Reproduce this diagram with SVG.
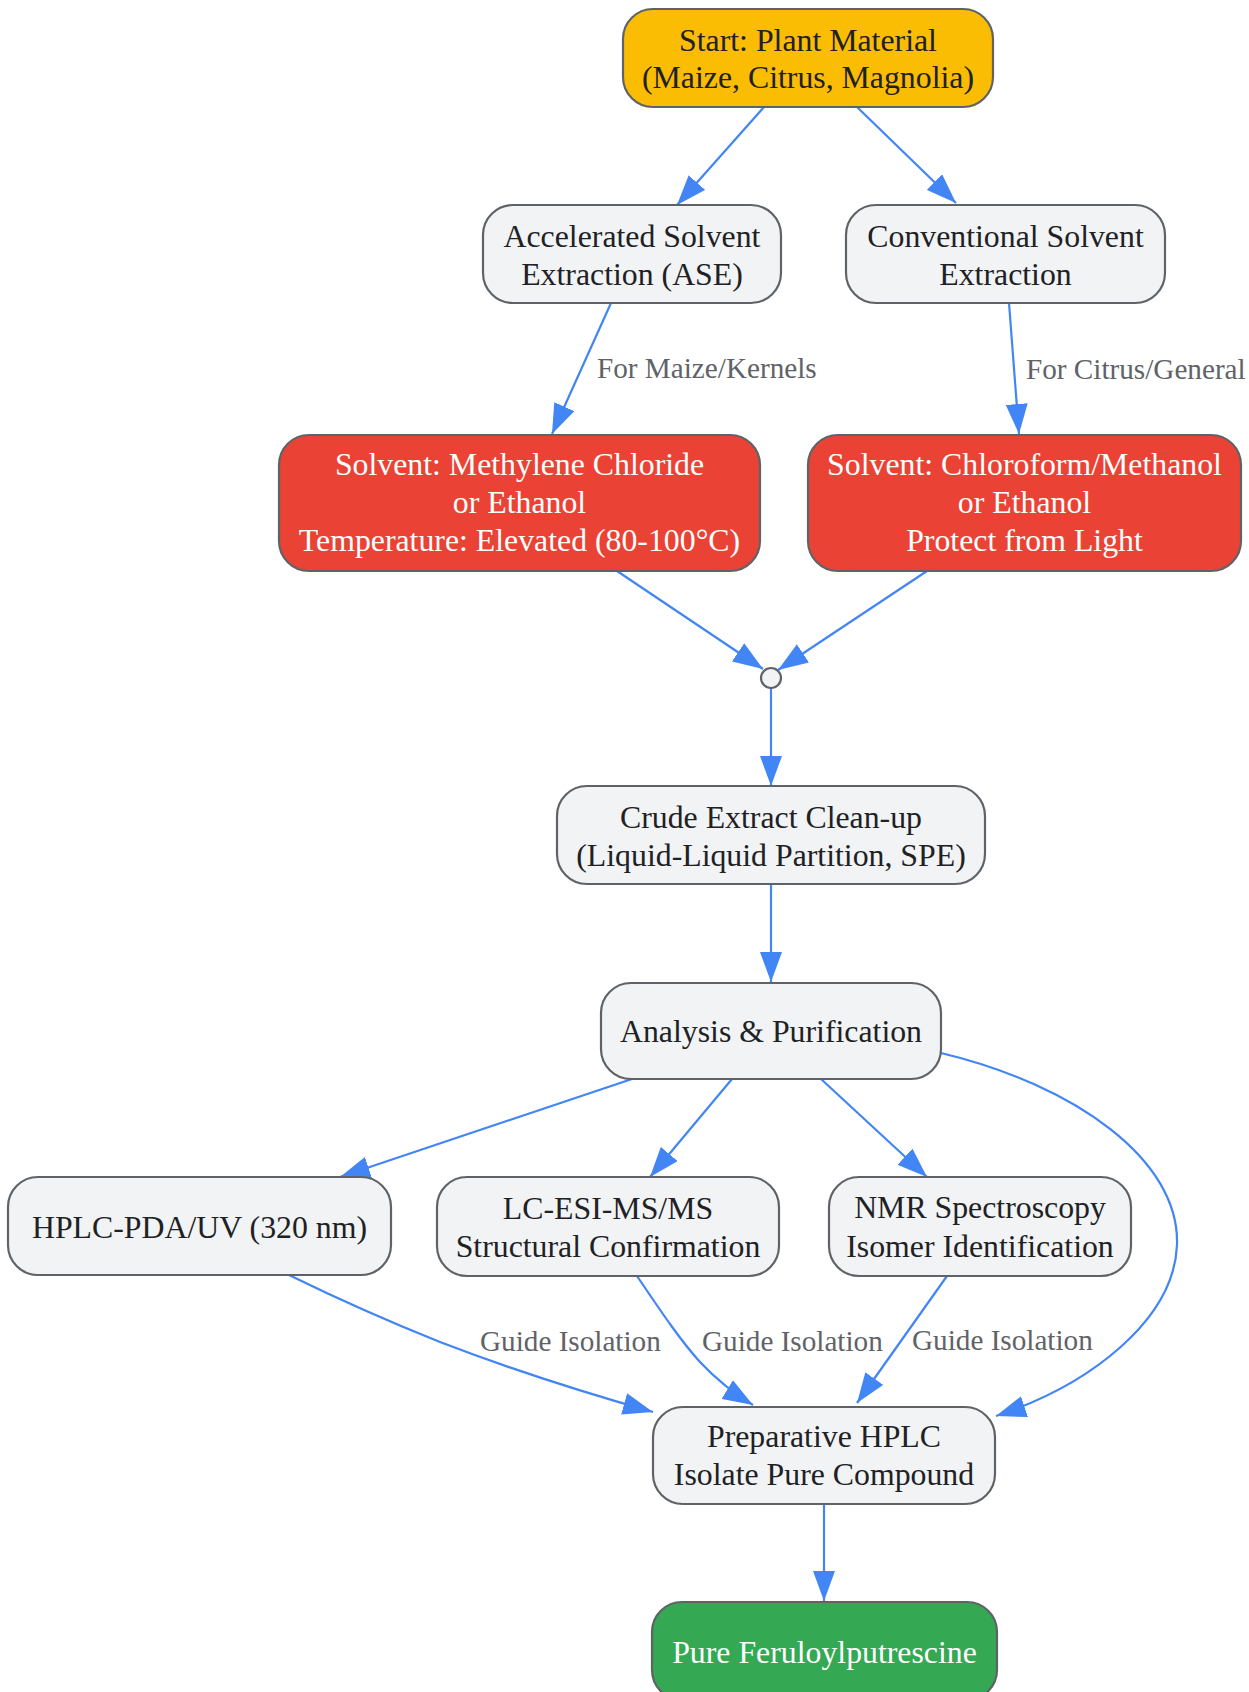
<svg xmlns="http://www.w3.org/2000/svg" width="1249" height="1692" viewBox="0 0 1249 1692">
<style>
.n rect{stroke:#5f6368;stroke-width:2.2}
.g rect{fill:#f1f3f4}
.t{font-family:"Liberation Serif","Times New Roman",serif;font-size:31.8px;text-anchor:middle;fill:#202124}
.w{fill:#ffffff}
.e path{fill:none;stroke:#4285f4;stroke-width:2.2}
.l{font-family:"Liberation Serif","Times New Roman",serif;font-size:29.2px;fill:#5f6368}
</style>
<defs>
<marker id="a" markerUnits="userSpaceOnUse" markerWidth="30" markerHeight="22" refX="30" refY="11" orient="auto" viewBox="0 0 30 22">
<path d="M0,0 L30,11 L0,22 z" fill="#4285f4"/>
</marker>
</defs>
<rect width="1249" height="1692" fill="#ffffff"/>
<g class="e" marker-end="url(#a)">
<path d="M764,107 L677,205" marker-end="url(#a)"/>
<path d="M857,107 L956,203" marker-end="url(#a)"/>
<path d="M611,303 L552,434" marker-end="url(#a)"/>
<path d="M1009,303 L1019,434" marker-end="url(#a)"/>
<path d="M617,571 L763,669" marker-end="url(#a)"/>
<path d="M927,571 L778,670" marker-end="url(#a)"/>
<path d="M771,688 L771,786" marker-end="url(#a)"/>
<path d="M771,884 L771,982" marker-end="url(#a)"/>
<path d="M632,1079 L340,1177" marker-end="url(#a)"/>
<path d="M732,1079 L650,1177" marker-end="url(#a)"/>
<path d="M821,1079 L927,1177" marker-end="url(#a)"/>
<path d="M941,1053 C1075,1085 1180,1160 1177,1245 C1174,1320 1090,1385 996,1416" marker-end="url(#a)"/>
<path d="M289,1275 C340,1300 390,1322 440,1342 C505,1367 575,1390 653,1412" marker-end="url(#a)"/>
<path d="M637,1276 C660,1310 680,1340 700,1362 C715,1378 733,1393 753,1405" marker-end="url(#a)"/>
<path d="M947,1276 L857,1403" marker-end="url(#a)"/>
<path d="M824,1504 L824,1601" marker-end="url(#a)"/>
<text class="l" x="597" y="378">For Maize/Kernels</text>
<text class="l" x="1026" y="379">For Citrus/General</text>
<text class="l" x="480" y="1351">Guide Isolation</text>
<text class="l" x="702" y="1351">Guide Isolation</text>
<text class="l" x="912" y="1350">Guide Isolation</text>
</g>
<g id="start" class="n"><rect x="623" y="9" width="370" height="98" rx="30" fill="#fbbc04"/>
<text class="t" x="808" y="51">Start: Plant Material</text><text class="t" x="808" y="88">(Maize, Citrus, Magnolia)</text></g>
<g id="ase" class="n g"><rect x="483" y="205" width="298" height="98" rx="30"/>
<text class="t" x="632" y="247">Accelerated Solvent</text><text class="t" x="632" y="285">Extraction (ASE)</text></g>
<g id="conv" class="n g"><rect x="846" y="205" width="319" height="98" rx="30"/>
<text class="t" x="1005.5" y="247">Conventional Solvent</text><text class="t" x="1005.5" y="285">Extraction</text></g>
<g id="solv1" class="n"><rect x="279" y="435" width="481" height="136" rx="30" fill="#ea4335"/>
<text class="t w" x="519.5" y="475">Solvent: Methylene Chloride</text><text class="t w" x="519.5" y="513">or Ethanol</text><text class="t w" x="519.5" y="551">Temperature: Elevated (80-100°C)</text></g>
<g id="solv2" class="n"><rect x="808" y="435" width="433" height="136" rx="30" fill="#ea4335"/>
<text class="t w" x="1024.5" y="475">Solvent: Chloroform/Methanol</text><text class="t w" x="1024.5" y="513">or Ethanol</text><text class="t w" x="1024.5" y="551">Protect from Light</text></g>
<g id="join" class="n"><circle cx="771" cy="678" r="10" fill="#f1f3f4" stroke="#5f6368" stroke-width="2.2"/></g>
<g id="crude" class="n g"><rect x="557" y="786" width="428" height="98" rx="30"/>
<text class="t" x="771" y="828">Crude Extract Clean-up</text><text class="t" x="771" y="866">(Liquid-Liquid Partition, SPE)</text></g>
<g id="analysis" class="n g"><rect x="601" y="983" width="340" height="96" rx="30"/>
<text class="t" x="771" y="1042">Analysis &amp; Purification</text></g>
<g id="hplc" class="n g"><rect x="8" y="1177" width="383" height="98" rx="30"/>
<text class="t" x="199.5" y="1238">HPLC-PDA/UV (320 nm)</text></g>
<g id="lcms" class="n g"><rect x="437" y="1177" width="342" height="99" rx="30"/>
<text class="t" x="608" y="1219">LC-ESI-MS/MS</text><text class="t" x="608" y="1257">Structural Confirmation</text></g>
<g id="nmr" class="n g"><rect x="829" y="1177" width="302" height="99" rx="30"/>
<text class="t" x="980" y="1218">NMR Spectroscopy</text><text class="t" x="980" y="1257">Isomer Identification</text></g>
<g id="prep" class="n g"><rect x="653" y="1407" width="342" height="97" rx="30"/>
<text class="t" x="824" y="1447">Preparative HPLC</text><text class="t" x="824" y="1485">Isolate Pure Compound</text></g>
<g id="final" class="n"><rect x="652" y="1602" width="345" height="98" rx="30" fill="#34a853"/>
<text class="t w" x="824.5" y="1663">Pure Feruloylputrescine</text></g>
</svg>
